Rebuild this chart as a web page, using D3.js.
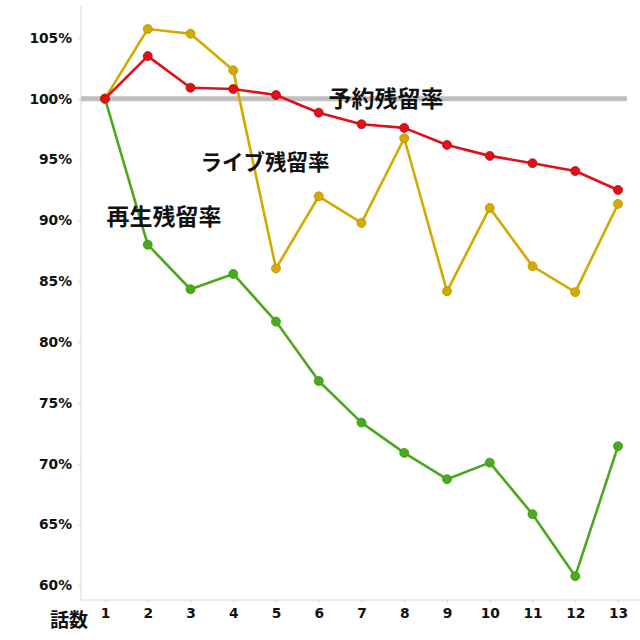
<!DOCTYPE html>
<html><head><meta charset="utf-8">
<script src="https://cdn.jsdelivr.net/npm/d3@7"></script>
<style>body{margin:0;background:#fff}</style>
</head><body>
<svg id="c" width="640" height="640"></svg>
<script>
const episodes = [1,2,3,4,5,6,7,8,9,10,11,12,13];
const reservation = [100,103.5,100.9,100.8,100.3,98.85,97.9,97.6,96.2,95.3,94.7,94.06,92.5];
const live = [100,105.73,105.34,102.33,86.05,91.98,89.79,96.75,84.17,91.02,86.23,84.1,91.35];
const replay = [100,88.0,84.34,85.6,81.68,76.8,73.38,70.89,68.73,70.09,65.85,60.76,71.44];
const yTicks = [60,65,70,75,80,85,90,95,100,105];
const seriesNames = ["予約残留率","ライブ残留率","再生残留率"];
const xTitle = "話数";

const svg = d3.select("#c");
const x = d3.scalePoint().domain(episodes).range([105,618]);
const y = d3.scaleLinear().domain([58.8,107.7]).range([600,5]);
const axisColor = "#d9d9d9";
const tickFont = "'DejaVu Sans', Verdana, sans-serif";
const cjkFont = "'Noto Sans CJK JP', sans-serif";

// y axis
const ya = svg.append("g").attr("transform","translate(81,0)")
  .call(d3.axisLeft(y).tickValues(yTicks).tickFormat(d=>d+"%").tickSize(3).tickPadding(6));
ya.select(".domain").attr("stroke",axisColor).attr("d","M0,5V600");
ya.selectAll(".tick line").attr("stroke",axisColor);
ya.selectAll(".tick text").attr("font-family",tickFont).attr("font-weight","bold").attr("font-size","13.8px").attr("fill","#111");

// x axis
const xa = svg.append("g").attr("transform","translate(0,600)")
  .call(d3.axisBottom(x).tickSize(3).tickPadding(5));
xa.select(".domain").attr("stroke",axisColor).attr("d","M81,0H640");
xa.selectAll(".tick line").attr("stroke",axisColor);
xa.selectAll(".tick text").attr("font-family",tickFont).attr("font-weight","bold").attr("font-size","13.8px").attr("fill","#111");

svg.append("text").attr("x",69).attr("y",627).attr("text-anchor","middle")
  .attr("font-family",cjkFont).attr("font-weight","bold").attr("font-size","19px").attr("fill","#111").text(xTitle);

// 100% reference line
svg.append("line").attr("x1",81).attr("x2",627).attr("y1",y(100)).attr("y2",y(100))
  .attr("stroke","#bfbfbf").attr("stroke-width",5);

const series = [
  {vals: replay, color:"#4aa91e", stroke:"#3d9418"},
  {vals: live, color:"#d4a900", stroke:"#b89300"},
  {vals: reservation, color:"#de1018", stroke:"#b80c12"}
];
const line = d3.line().x((d,i)=>x(episodes[i])).y(d=>y(d));
series.forEach(s=>{
  svg.append("path").datum(s.vals).attr("d",line).attr("fill","none")
    .attr("stroke",s.color).attr("stroke-width",2.6).attr("stroke-linejoin","round");
});
series.forEach(s=>{
  svg.append("g").selectAll("circle").data(s.vals).join("circle")
    .attr("cx",(d,i)=>x(episodes[i])).attr("cy",d=>y(d)).attr("r",4.5)
    .attr("fill",s.color).attr("stroke",s.stroke).attr("stroke-width",0.8);
});

// labels
const labels = [
  {t:seriesNames[0], x:386, y:99, s:23},
  {t:seriesNames[1], x:265, y:162, s:21.5},
  {t:seriesNames[2], x:164, y:217, s:23}
];
labels.forEach(l=>{
  svg.append("text").attr("x",l.x).attr("y",l.y).attr("dy","0.36em").attr("text-anchor","middle")
    .attr("font-family",cjkFont).attr("font-weight","bold").attr("font-size",l.s+"px").attr("fill","#111").text(l.t);
});
</script>
</body></html>
